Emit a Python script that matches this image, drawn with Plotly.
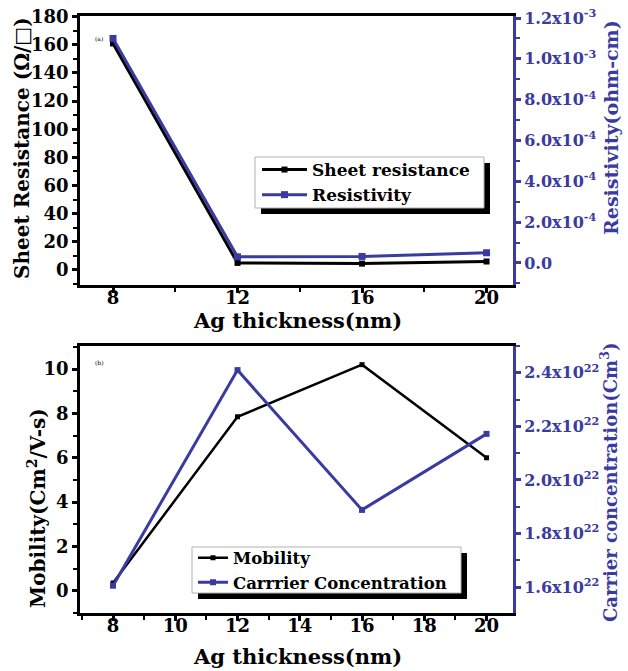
import plotly.graph_objects as go

# ---- data ----
thickness = [8, 12, 16, 20]
sheet_resistance = [161, 5, 4.5, 6]
resistivity = [1.10e-3, 3.0e-5, 3.2e-5, 5.0e-5]
mobility = [0.35, 7.85, 10.2, 6.0]
carrier_conc = [1.605e22, 2.41e22, 1.888e22, 2.172e22]

res_tickvals = [0, 2e-4, 4e-4, 6e-4, 8e-4, 1.0e-3, 1.2e-3]
res_ticktext = ["0.0", "2.0x10<sup>-4</sup>", "4.0x10<sup>-4</sup>", "6.0x10<sup>-4</sup>",
                "8.0x10<sup>-4</sup>", "1.0x10<sup>-3</sup>", "1.2x10<sup>-3</sup>"]
cc_tickvals = [1.6e22, 1.8e22, 2.0e22, 2.2e22, 2.4e22]
cc_ticktext = ["1.6x10<sup>22</sup>", "1.8x10<sup>22</sup>", "2.0x10<sup>22</sup>",
               "2.2x10<sup>22</sup>", "2.4x10<sup>22</sup>"]

BLUE = "#3a3aa0"
BLACK = "#000000"
FONT = "DejaVu Serif"

fig = go.Figure()

fig.add_trace(go.Scatter(x=thickness, y=sheet_resistance, name="Sheet resistance",
                         mode="lines+markers", line=dict(color=BLACK, width=3),
                         marker=dict(symbol="square", size=6, color=BLACK),
                         xaxis="x", yaxis="y", legend="legend"))
fig.add_trace(go.Scatter(x=thickness, y=resistivity, name="Resistivity",
                         mode="lines+markers", line=dict(color=BLUE, width=3),
                         marker=dict(symbol="square", size=7, color=BLUE),
                         xaxis="x", yaxis="y2", legend="legend"))
fig.add_trace(go.Scatter(x=thickness, y=mobility, name="Mobility",
                         mode="lines+markers", line=dict(color=BLACK, width=2.5),
                         marker=dict(symbol="square", size=5, color=BLACK),
                         xaxis="x2", yaxis="y3", legend="legend2"))
fig.add_trace(go.Scatter(x=thickness, y=carrier_conc, name="Carrrier Concentration",
                         mode="lines+markers", line=dict(color=BLUE, width=3),
                         marker=dict(symbol="square", size=6, color=BLUE),
                         xaxis="x2", yaxis="y4", legend="legend2"))

tickfont = dict(family=FONT, size=18, color=BLACK, weight="bold")
rtickfont = dict(family=FONT, size=16, color=BLUE, weight="bold")

common_x = dict(range=[6.94, 20.85], showgrid=False, zeroline=False, showline=True,
                linecolor=BLACK, linewidth=2.5, mirror=True, ticks="outside",
                ticklen=5, tickwidth=2.5, tickcolor=BLACK, tickfont=tickfont,
                automargin=False, ticklabelstandoff=-10, ticklabeloverflow="allow")
common_y = dict(showgrid=False, zeroline=False, showline=True, linecolor=BLACK,
                linewidth=2.5, ticks="outside", ticklen=5, tickwidth=2.5,
                tickcolor=BLACK, tickfont=tickfont, automargin=False,
                ticklabeloverflow="allow")
common_yr = dict(showgrid=False, zeroline=False, showline=True, linecolor=BLUE,
                 linewidth=3, ticks="outside", ticklen=5, tickwidth=2.5,
                 tickcolor=BLUE, tickfont=rtickfont, side="right", automargin=False,
                 ticklabeloverflow="allow")

# window pixel -> paper coordinates (plot area spans x 80..513, y 16..613)
L, T, W, H = 80, 16, 433, 597
def px(x):
    return (x - L) / W
def py(y):
    return (T + H - y) / H

def legend_box(x0, y0, x1, y1, off=6):
    return [
        dict(type="rect", xref="paper", yref="paper", layer="above",
             x0=px(x0 + off), x1=px(x1 + off), y0=py(y1 + off), y1=py(y0 + off),
             fillcolor=BLACK, line=dict(width=0)),
        dict(type="rect", xref="paper", yref="paper", layer="above",
             x0=px(x0), x1=px(x1), y0=py(y1), y1=py(y0),
             fillcolor="white", line=dict(width=1, color="#b0b0b0")),
    ]

shapes = legend_box(255, 157, 484, 208) + legend_box(192, 547, 461, 593)

def title_ann(text, x, y, size, color, angle=0):
    return dict(text=text, x=px(x), y=py(y), xref="paper", yref="paper",
                showarrow=False, textangle=angle, xanchor="center", yanchor="middle",
                font=dict(family=FONT, size=size, color=color, weight="bold"))

fig.update_layout(
    width=628, height=671,
    margin=dict(l=80, r=115, t=16, b=58),
    paper_bgcolor="white", plot_bgcolor="rgba(0,0,0,0)",
    font=dict(family=FONT),
    xaxis=dict(common_x, domain=[0, 1], anchor="y", tickvals=[8, 12, 16, 20],
               minor=dict(tickvals=[10, 14, 18], ticks="outside", ticklen=4,
                          tickwidth=2, tickcolor=BLACK)),
    yaxis=dict(common_y, domain=[0.5494, 1], anchor="x", range=[-10.7, 180.5],
               tickvals=list(range(0, 181, 20)),
               minor=dict(dtick=10, ticks="outside", ticklen=4, tickwidth=2, tickcolor=BLACK)),
    yaxis2=dict(common_yr, overlaying="y", anchor="x", range=[-1.08e-4, 1.21e-3],
                tickvals=res_tickvals, ticktext=res_ticktext,
                minor=dict(dtick=1e-4, ticks="outside", ticklen=4, tickwidth=2, tickcolor=BLUE)),
    xaxis2=dict(common_x, domain=[0, 1], anchor="y3", tickvals=[8, 10, 12, 14, 16, 18, 20],
                minor=dict(dtick=1, ticks="outside", ticklen=4, tickwidth=2, tickcolor=BLACK)),
    yaxis3=dict(common_y, domain=[0, 0.4472], anchor="x2", range=[-1.0, 11.04],
                tickvals=[0, 2, 4, 6, 8, 10],
                minor=dict(dtick=1, ticks="outside", ticklen=4, tickwidth=2, tickcolor=BLACK)),
    yaxis4=dict(common_yr, overlaying="y3", anchor="x2", range=[1.503e22, 2.50e22],
                tickvals=cc_tickvals, ticktext=cc_ticktext,
                minor=dict(dtick=0.1e22, ticks="outside", ticklen=4, tickwidth=2, tickcolor=BLUE)),
    legend=dict(x=px(257), y=py(182.5), xanchor="left", yanchor="middle",
                bgcolor="rgba(0,0,0,0)", borderwidth=0,
                font=dict(family=FONT, size=17, color=BLACK, weight="bold"),
                tracegroupgap=0, itemwidth=45),
    legend2=dict(x=px(193), y=py(570), xanchor="left", yanchor="middle",
                 bgcolor="rgba(0,0,0,0)", borderwidth=0,
                 font=dict(family=FONT, size=16.5, color=BLACK, weight="bold"),
                 tracegroupgap=0, itemwidth=30),
    showlegend=True,
    shapes=shapes,
    annotations=[
        title_ann("Ag thickness(nm)", 297, 320, 21, BLACK),
        title_ann("Ag thickness(nm)", 297, 656, 21, BLACK),
        title_ann("Sheet Resistance (Ω/□)", 22, 148, 20, BLACK, -90),
        title_ann("Resistivity(ohm-cm)", 611, 128, 19, BLUE, -90),
        title_ann("Mobility(Cm<sup>2</sup>/V-s)", 37, 508, 20, BLACK, -90),
        title_ann("Carrier concentration(Cm<sup>3</sup>)", 609, 483, 18, BLUE, -90),
        dict(text="(a)", x=px(93), y=py(33), xref="paper", yref="paper", showarrow=False,
             font=dict(size=6, family=FONT, color=BLACK)),
        dict(text="(b)", x=px(93), y=py(362), xref="paper", yref="paper", showarrow=False,
             font=dict(size=6, family=FONT, color=BLACK)),
    ],
)

# remove the page's default body margin so the 628x671 figure fills the window
fig.write_html("out.html", config={"displayModeBar": False},
               post_script="document.body.style.margin='0px';")
